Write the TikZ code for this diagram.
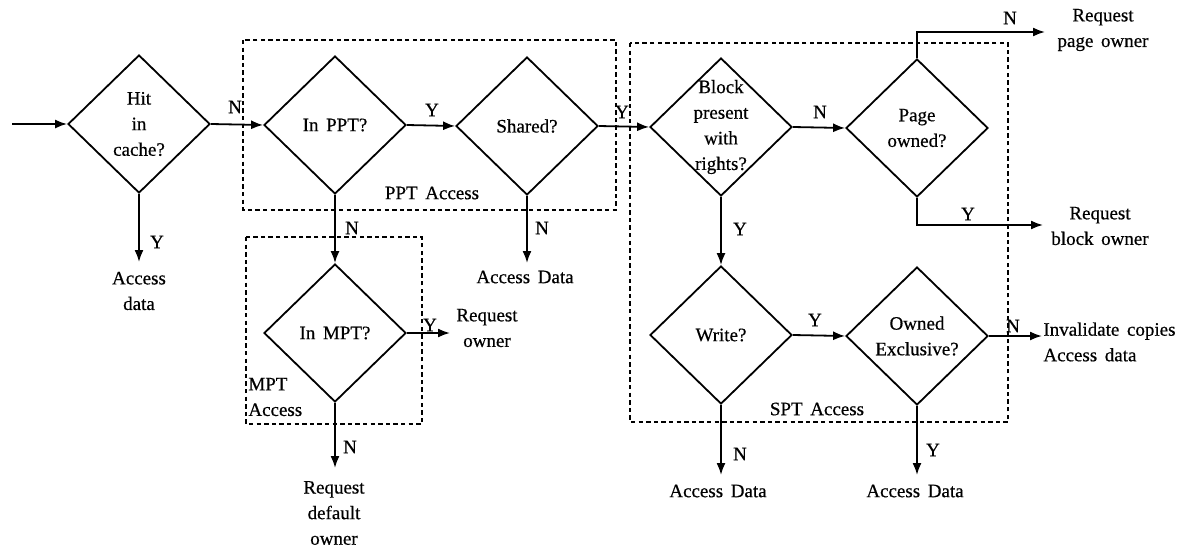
\documentclass[tikz,border=0pt]{standalone}
\usepackage{fontspec}
\setmainfont{Liberation Serif}[WordSpace=1.6,FakeBold=0.5]
\usetikzlibrary{shapes.geometric,arrows.meta}
\begin{document}
\begin{tikzpicture}[x=0.5pt,y=-0.5pt,
  font=\fontsize{9.5}{12.8}\selectfont,
  decision/.style={diamond,draw,line width=0.9pt,minimum width=71pt,minimum height=69pt,inner sep=0pt},
  qtext/.style={inner sep=0pt,align=center},
  flow/.style={line width=0.9pt,-{Latex[length=6pt,width=4.5pt]}},
  group/.style={draw,line width=0.8pt,dash pattern=on 2.2pt off 1.6pt},
  txt/.style={inner sep=0pt,align=center},
  tag/.style={inner sep=0pt}]
\useasboundingbox (0,0) rectangle (1182,552);

% dashed groups
\draw[group] (243,40) rectangle (616,210);
\draw[group] (246,237) rectangle (422,424);
\draw[group] (630,43) rectangle (1008,422);
\node[tag] (pptlbl) at (432,193) {PPT Access};
\node[tag,anchor=west,align=left] (mptlbl) at (248,397) {MPT\\Access};
\node[tag] (sptlbl) at (817,409) {SPT Access};

% decisions
\node[decision,label={[qtext]center:Hit\\in\\cache?}] (hit) at (139,124) {};
\node[decision,label={[qtext]center:In PPT?}] (ppt) at (335,125) {};
\node[decision,label={[qtext]center:Shared?}] (shr) at (527,126) {};
\node[decision,label={[qtext]center:In MPT?}] (mpt) at (335,333) {};
\node[decision,label={[qtext]center:Block\\present\\with\\rights?}] (blk) at (721,127) {};
\node[decision,label={[qtext]center:Page\\owned?}] (pgo) at (917,128) {};
\node[decision,label={[qtext]center:Write?}] (wrt) at (721,335) {};
\node[decision,label={[qtext]center:Owned\\Exclusive?}] (own) at (917,336) {};

% free ends of the connectors
\coordinate (start) at (12,124);
\coordinate (hitY) at (139,262);
\coordinate (shrN) at (527,263);
\coordinate (mptY) at (450,333);
\coordinate (mptN) at (335,468);
\coordinate (pgoUp) at (917,32);
\coordinate (pgoN) at (1045,32);
\coordinate (pgoDn) at (917,225);
\coordinate (pgoY) at (1043,225);
\coordinate (wrtN) at (721,475);
\coordinate (ownY) at (917,475);
\coordinate (ownN) at (1042,336);

% connectors
\draw[flow] (start) -- (hit.west);
\draw[flow] (hit.east) -- (ppt.west);
\draw[flow] (hit.south) -- (hitY);
\draw[flow] (ppt.east) -- (shr.west);
\draw[flow] (shr.east) -- (blk.west);
\draw[flow] (ppt.south) -- (mpt.north);
\draw[flow] (shr.south) -- (shrN);
\draw[flow] (mpt.east) -- (mptY);
\draw[flow] (mpt.south) -- (mptN);
\draw[flow] (blk.east) -- (pgo.west);
\draw[flow] (pgo.north) -- (pgoUp) -- (pgoN);
\draw[flow] (pgo.south) -- (pgoDn) -- (pgoY);
\draw[flow] (blk.south) -- (wrt.north);
\draw[flow] (wrt.east) -- (own.west);
\draw[flow] (wrt.south) -- (wrtN);
\draw[flow] (own.south) -- (ownY);
\draw[flow] (own.east) -- (ownN);

% branch letters
\node[tag] (l1) at (235,107) {N};
\node[tag] (l2) at (157,242) {Y};
\node[tag] (l3) at (432,110) {Y};
\node[tag] (l4) at (622,112) {Y};
\node[tag] (l5) at (352,228) {N};
\node[tag] (l6) at (542,228) {N};
\node[tag] (l7) at (430,325) {Y};
\node[tag] (l8) at (350,447) {N};
\node[tag] (l9) at (820,112) {N};
\node[tag] (l10) at (1010,18) {N};
\node[tag] (l11) at (968,214) {Y};
\node[tag] (l12) at (740,229) {Y};
\node[tag] (l13) at (815,320) {Y};
\node[tag] (l14) at (740,454) {N};
\node[tag] (l15) at (933,450) {Y};
\node[tag] (l16) at (1013,326) {N};

% outcomes
\node[txt] (o1) at (139,291) {Access\\data};
\node[txt] (o2) at (525,277) {Access Data};
\node[txt] (o3) at (487,328) {Request\\owner};
\node[txt] (o4) at (334,513) {Request\\default\\owner};
\node[txt] (o5) at (1103,30) {Request\\page owner};
\node[txt] (o6) at (1100,226) {Request\\block owner};
\node[txt,anchor=west,align=left] (o7) at (1043,342) {Invalidate copies\\Access data};
\node[txt] (o8) at (718,491) {Access Data};
\node[txt] (o9) at (915,491) {Access Data};
\end{tikzpicture}
\end{document}
